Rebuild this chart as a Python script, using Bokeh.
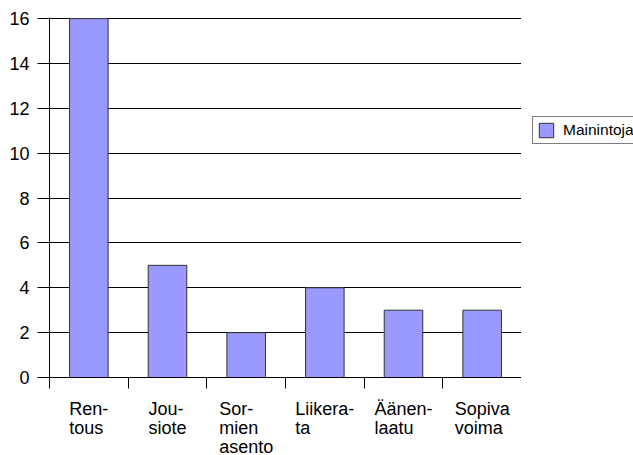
from bokeh.plotting import figure
from bokeh.layouts import column, row
from bokeh.models import (Range1d, FixedTicker, Legend, LegendItem,
                          ColumnDataSource)
from bokeh.core.properties import value
from bokeh.embed import file_html
from bokeh.resources import INLINE

# ---- data ----
categories = ["Ren-\ntous", "Jou-\nsiote", "Sor-\nmien\nasento",
              "Liikera-\nta", "Äänen-\nlaatu", "Sopiva\nvoima"]
values = [16, 5, 2, 4, 3, 3]
series_name = "Mainintoja"
y_ticks = [0, 2, 4, 6, 8, 10, 12, 14, 16]

FONT = "Liberation Sans"
AXIS_FS = 18
LEG_FS = 15.5
BAR_COLOR = "#9999FF"
BAR_LINE = "#333333"

# approximate Arial/Liberation Sans advance widths (per 1000 em)
W = {"R": 722, "e": 556, "n": 556, "-": 333, "t": 278, "o": 556, "u": 556,
     "s": 500, "J": 500, "i": 222, "S": 667, "r": 333, "m": 833, "a": 556,
     "L": 556, "k": 500, "Ä": 667, "l": 222, "p": 556, "v": 500}


def text_width(s, size):
    return sum(W.get(c, 556) for c in s) * size / 1000.0


n = len(categories)
xs = [i + 0.5 for i in range(n)]
src = ColumnDataSource(dict(x=xs, top=values))
x_range = Range1d(0, n)

TOTAL_W, TOTAL_H = 633, 455
LEFT = 49
MAIN_W = 521
MAIN_H = 389

p = figure(width=MAIN_W, height=MAIN_H, output_backend="svg", toolbar_location=None,
           x_range=x_range, y_range=Range1d(0, 16.05),
           min_border_left=LEFT, min_border_right=0,
           min_border_top=17, min_border_bottom=12)
p.outline_line_color = None

r = p.vbar(x="x", top="top", width=0.49, source=src,
           fill_color=BAR_COLOR, line_color=BAR_LINE, line_width=1)

# x axis: boundary ticks, no labels
xa = p.xaxis[0]
xa.ticker = FixedTicker(ticks=list(range(n)))
xa.major_tick_out = 11
xa.major_tick_in = 0
xa.minor_tick_line_color = None
xa.major_label_standoff = 0
xa.major_label_text_font_size = "0px"
xa.major_label_text_color = None
xa.axis_line_color = "black"
xa.major_tick_line_color = "black"

# y axis
ya = p.yaxis[0]
ya.ticker = FixedTicker(ticks=y_ticks)
ya.major_tick_out = 12
ya.major_tick_in = 0
ya.minor_tick_line_color = None
ya.major_label_standoff = 8
ya.major_label_text_font = FONT
ya.major_label_text_font_size = f"{AXIS_FS}px"
ya.major_label_text_color = "black"
ya.axis_line_color = "black"
ya.major_tick_line_color = "black"

p.xgrid.visible = False
p.ygrid.ticker = FixedTicker(ticks=y_ticks)
p.ygrid.grid_line_color = "black"
p.ygrid.grid_line_alpha = 1.0

# ---- legend area (right of plot) ----
# the proxy renderer shares the series data but lies outside this panel's
# visible ranges, so only its legend swatch shows
leg = figure(width=TOTAL_W - MAIN_W, height=MAIN_H, output_backend="svg",
             toolbar_location=None, x_range=Range1d(-20, -19), y_range=Range1d(-20, -19),
             x_axis_location=None, y_axis_location=None,
             min_border_left=0, min_border_right=0,
             min_border_top=0, min_border_bottom=0)
leg.outline_line_color = None
leg.xgrid.visible = False
leg.ygrid.visible = False
proxy = leg.vbar(x="x", top="top", width=0.49, source=src, fill_color=BAR_COLOR,
                 line_color=BAR_LINE, line_width=1)
legend = Legend(items=[LegendItem(label=series_name, renderers=[proxy])],
                location=(11, 233), orientation="vertical",
                padding=4, margin=0, spacing=0,
                glyph_width=18, glyph_height=18, label_height=18,
                label_standoff=8,
                label_text_font=FONT, label_text_font_size=f"{LEG_FS}px",
                label_text_color="black",
                border_line_color="black", border_line_width=1,
                background_fill_color="white", background_fill_alpha=1.0)
leg.add_layout(legend, "center")

# ---- category label strip (shares the x scale) ----
LAB_H = TOTAL_H - MAIN_H
q = figure(width=MAIN_W, height=LAB_H, output_backend="svg", toolbar_location=None,
           x_range=x_range, y_range=Range1d(LAB_H, 0),
           x_axis_location=None, y_axis_location=None,
           min_border_left=LEFT, min_border_right=0,
           min_border_top=0, min_border_bottom=0)
q.outline_line_color = None
q.xgrid.visible = False
q.ygrid.visible = False

line_step = 19
first_base = 19
lx, ly, lt, lo = [], [], [], []
for i, cat in enumerate(categories):
    lines = cat.split("\n")
    bw = max(text_width(s, AXIS_FS) for s in lines)
    for k, s in enumerate(lines):
        lx.append(xs[i])
        ly.append(first_base + line_step * k)
        lt.append(s)
        lo.append(-bw / 2)
q.text(x=lx, y=ly, text=lt, x_offset=lo, text_align="left",
       text_baseline="alphabetic", text_font=value(FONT),
       text_font_size=f"{AXIS_FS}px", text_color="black")

layout = column(row(p, leg, spacing=0), q, spacing=0)
open("out.html", "w").write(file_html(layout, INLINE))
